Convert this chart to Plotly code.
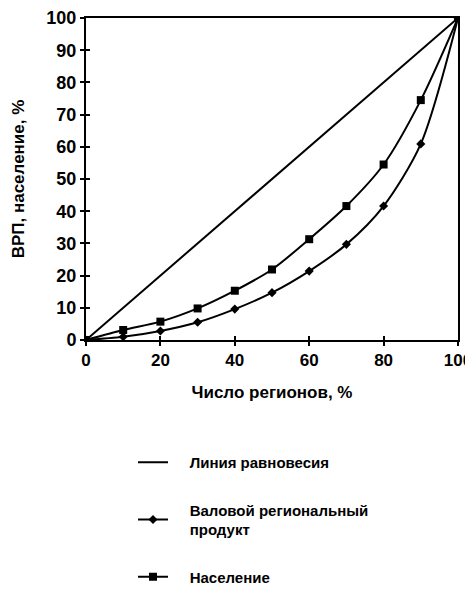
import plotly.graph_objects as go

x_regions = [0, 10, 20, 30, 40, 50, 60, 70, 80, 90, 100]
equality = [0, 10, 20, 30, 40, 50, 60, 70, 80, 90, 100]
grp = [0, 1.0, 2.8, 5.5, 9.6, 14.7, 21.4, 29.7, 41.6, 60.9, 100]
population = [0, 3.1, 5.7, 9.8, 15.3, 21.9, 31.3, 41.6, 54.5, 74.5, 100]
x_ticks = [0, 20, 40, 60, 80, 100]
y_ticks = [0, 10, 20, 30, 40, 50, 60, 70, 80, 90, 100]

pad = "\u00a0" * 4
names = [pad + "Линия равновесия",
         pad + "Валовой региональный<br>" + pad + "продукт",
         pad + "Население"]

W, H = 480, 610
L, R, T, B = 78, 30, 10, 278
PW, PH = W - L - R, H - T - B

fig = go.Figure()
fig.add_trace(go.Scatter(x=x_regions, y=equality, mode="lines", name=names[0],
                         line=dict(color="black", width=2), legendgroup="a"))
fig.add_trace(go.Scatter(x=x_regions, y=grp, mode="lines+markers", name=names[1],
                         line=dict(color="black", width=2, shape="spline", smoothing=0.8),
                         marker=dict(symbol="diamond", size=7, color="black"), legendgroup="b"))
fig.add_trace(go.Scatter(x=x_regions, y=population, mode="lines+markers", name=names[2],
                         line=dict(color="black", width=2, shape="spline", smoothing=0.8),
                         marker=dict(symbol="square", size=8, color="black"), legendgroup="c"))
# helper trace so the inner tick axes (crossing tick marks) are drawn
fig.add_trace(go.Scatter(x=[None], y=[None], xaxis="x2", yaxis="y2", showlegend=False,
                         hoverinfo="skip", mode="lines"))

fig.update_layout(
    width=W, height=H,
    margin=dict(l=L, r=R, t=T, b=B),
    paper_bgcolor="white", plot_bgcolor="white",
    font=dict(family="Arial, Liberation Sans", color="black"),
    showlegend=True,
    legend=dict(x=(125 - L) / PW, y=-(438 - (H - B)) / PH,
                xanchor="left", yanchor="top", itemwidth=30,
                font=dict(size=15, color="black", weight="bold"), tracegroupgap=25,
                bgcolor="rgba(0,0,0,0)"),
    xaxis=dict(range=[0, 100], tickvals=x_ticks, ticks="outside",
               ticklen=4, tickwidth=2, tickcolor="black", showgrid=False, zeroline=False,
               showline=True, linecolor="black", linewidth=2, mirror=True,
               automargin=False, ticklabeloverflow="allow",
               tickfont=dict(size=17, weight="bold"),
               title=dict(text="Число регионов, %", font=dict(size=17, weight="bold"), standoff=17)),
    yaxis=dict(range=[0, 100], tickvals=y_ticks, ticks="outside",
               ticklen=4, tickwidth=2, tickcolor="black", showgrid=False, zeroline=False,
               showline=True, linecolor="black", linewidth=2, mirror=True,
               automargin=False, ticklabeloverflow="allow",
               tickfont=dict(size=18, weight="bold"),
               title=dict(text="ВРП, население, %", font=dict(size=17, weight="bold"), standoff=17)),
    xaxis2=dict(range=[0, 100], tickvals=x_ticks, ticks="inside", ticklen=4, tickwidth=2,
                tickcolor="black", showticklabels=False, showgrid=False, zeroline=False,
                showline=False, overlaying="x", side="bottom", automargin=False),
    yaxis2=dict(range=[0, 100], tickvals=y_ticks, ticks="inside", ticklen=4, tickwidth=2,
                tickcolor="black", showticklabels=False, showgrid=False, zeroline=False,
                showline=False, overlaying="y", side="left", automargin=False),
)
fig.write_html("out.html")
